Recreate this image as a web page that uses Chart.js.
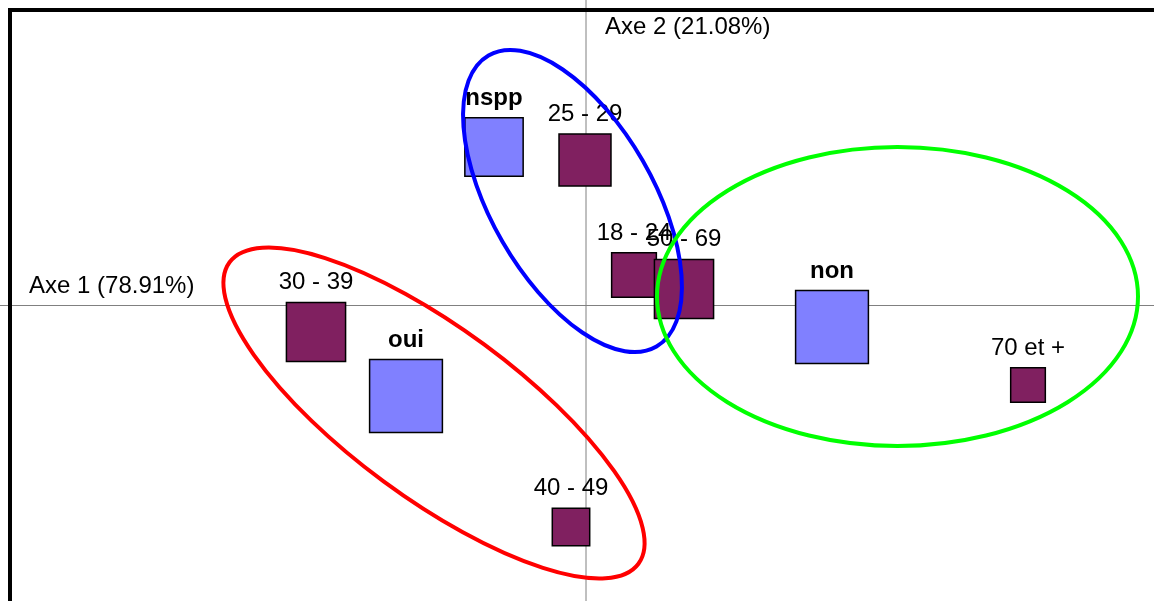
<!DOCTYPE html>
<html lang="fr">
<head>
<meta charset="utf-8">
<title>Analyse des correspondances</title>
<script src="https://cdn.jsdelivr.net/npm/chart.js@4/dist/chart.umd.min.js"></script>
<style>
    html, body { margin: 0; padding: 0; background: #fff; overflow: hidden; }
    #wrap { position: relative; width: 1154px; height: 601px; }
</style>
</head>
<body>
<div id="wrap"><canvas id="afcChart"></canvas></div>
<script>
// Modalités de la question (oui / non / nspp)
const reponses = ['oui', 'non', 'nspp'];
const reponsesAxe1 = [-0.180, 0.246, -0.092];
const reponsesAxe2 = [-0.091, -0.022, 0.158];
const reponsesPoids = [53, 53, 34];

// Tranches d'âge
const ages = ['18 - 24', '25 - 29', '30 - 39', '40 - 49', '50 - 69', '70 et +'];
const agesAxe1 = [0.048, -0.001, -0.270, -0.015, 0.098, 0.442];
const agesAxe2 = [0.030, 0.145, -0.027, -0.222, 0.016, -0.080];
const agesPoids = [20, 27, 35, 14, 35, 12];

// Titres des axes
const axeLabels = ['Axe 1 (78.91%)', 'Axe 2 (21.08%)'];

// Ellipses de regroupement : centre, demi-axes et angle (degrés)
const ellipsesCentreX = [-0.152, -0.0135, 0.3115];
const ellipsesCentreY = [-0.108, 0.104, 0.0085];
const ellipsesDemiA = [0.254, 0.168, 0.2405];
const ellipsesDemiB = [0.085, 0.081, 0.1495];
const ellipsesAngle = [-36.4, -60, 0];
const ellipsesCouleurs = ['#ff0000', '#0000ff', '#00ff00'];

const FONT = '"Liberation Sans", Arial, sans-serif';

// côté du carré (px) à partir du poids
function cote(p) {
    return 10 * Math.sqrt(p);
}

function points(xs, ys) {
    return xs.map((x, i) => ({ x: x, y: ys[i] }));
}

// Plugin : cadre, axes, étiquettes et ellipses
const afcPlugin = {
    id: 'afcPlugin',
    beforeDatasetsDraw(chart) {
        const ctx = chart.ctx;
        const xs = chart.scales.x;
        const ys = chart.scales.y;
        const x0 = Math.round(xs.getPixelForValue(0));
        const y0 = Math.round(ys.getPixelForValue(0)) + 0.5;

        ctx.save();
        ctx.strokeStyle = '#808080';
        ctx.lineWidth = 1;
        ctx.beginPath();
        ctx.moveTo(0, y0);
        ctx.lineTo(chart.width, y0);
        ctx.moveTo(x0, 0);
        ctx.lineTo(x0, chart.height);
        ctx.stroke();

        // titres des axes
        ctx.fillStyle = '#000';
        ctx.font = '24px ' + FONT;
        ctx.textAlign = 'left';
        ctx.textBaseline = 'alphabetic';
        ctx.fillText(axeLabels[0], 29, y0 - 13);
        ctx.fillText(axeLabels[1], x0 + 19, 34);

        // cadre (haut et gauche visibles)
        ctx.strokeStyle = '#000';
        ctx.lineWidth = 4;
        ctx.strokeRect(10, 10, chart.width + 20, chart.height + 20);
        ctx.restore();
    },
    afterDatasetsDraw(chart) {
        const ctx = chart.ctx;
        const xs = chart.scales.x;
        const ys = chart.scales.y;

        ctx.save();
        ctx.fillStyle = '#000';
        ctx.textAlign = 'center';
        ctx.textBaseline = 'alphabetic';

        // étiquettes au-dessus des carrés
        chart.data.datasets.forEach((ds, di) => {
            const meta = chart.getDatasetMeta(di);
            ctx.font = (ds.gras ? 'bold ' : '') + '24px ' + FONT;
            meta.data.forEach((pt, i) => {
                const haut = pt.y - cote(ds.poids[i]) / 2;
                ctx.fillText(ds.etiquettes[i], pt.x, haut - 13);
            });
        });

        // ellipses
        const pxX = xs.getPixelForValue(1) - xs.getPixelForValue(0);
        const pxY = ys.getPixelForValue(0) - ys.getPixelForValue(1);
        ctx.lineWidth = 4;
        ellipsesCentreX.forEach((cx, i) => {
            ctx.strokeStyle = ellipsesCouleurs[i];
            ctx.beginPath();
            ctx.ellipse(
                xs.getPixelForValue(cx),
                ys.getPixelForValue(ellipsesCentreY[i]),
                ellipsesDemiA[i] * pxX,
                ellipsesDemiB[i] * pxY,
                -ellipsesAngle[i] * Math.PI / 180,
                0, Math.PI * 2
            );
            ctx.stroke();
        });
        ctx.restore();
    }
};

const afcCtx = document.getElementById('afcChart').getContext('2d');
new Chart(afcCtx, {
    type: 'scatter',
    data: {
        datasets: [
            {
                label: 'Réponse',
                data: points(reponsesAxe1, reponsesAxe2),
                etiquettes: reponses,
                poids: reponsesPoids,
                gras: true,
                pointStyle: 'rect',
                pointRadius: reponsesPoids.map(p => cote(p) / Math.SQRT2),
                backgroundColor: '#8080ff',
                borderColor: '#000',
                borderWidth: 1.5
            },
            {
                label: 'Âge',
                data: points(agesAxe1, agesAxe2),
                etiquettes: ages,
                poids: agesPoids,
                gras: false,
                pointStyle: 'rect',
                pointRadius: agesPoids.map(p => cote(p) / Math.SQRT2),
                backgroundColor: '#802060',
                borderColor: '#000',
                borderWidth: 1.5
            }
        ]
    },
    options: {
        responsive: true,
        maintainAspectRatio: false,
        animation: false,
        events: [],
        layout: { padding: 0, autoPadding: false },
        plugins: {
            legend: { display: false },
            tooltip: { enabled: false }
        },
        scales: {
            x: { type: 'linear', display: false, min: -0.586, max: 0.568 },
            y: { type: 'linear', display: false, min: -0.296, max: 0.305 }
        }
    },
    plugins: [afcPlugin]
});
</script>
</body>
</html>
